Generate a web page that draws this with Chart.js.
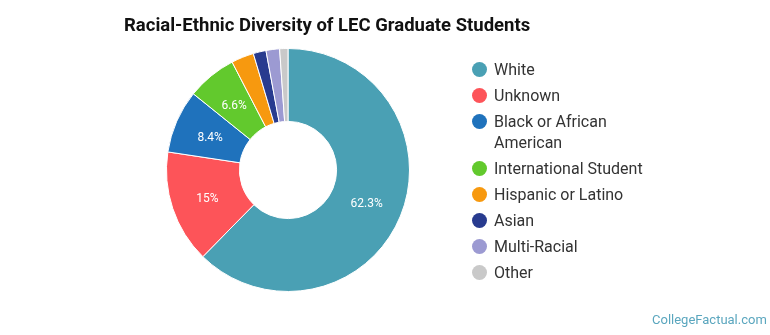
<!DOCTYPE html>
<html>
<head>
<meta charset="utf-8">
<script src="https://cdn.jsdelivr.net/npm/chart.js@4/dist/chart.umd.min.js"></script>
<style>
  body { margin: 0; background: #fff; font-family: Roboto, sans-serif; }
  #wrap { position: relative; width: 770px; height: 335px; }
  #title { position: absolute; left: 124px; top: 14px; font-size: 18.5px; font-weight: bold; color: #111; }
  #legend { position: absolute; left: 472px; top: 59px; list-style: none; margin: 0; padding: 0; }
  #legend li { position: relative; padding-left: 22px; font-size: 16px; line-height: 21px; color: #333; margin-bottom: 5px; width: 160px; }
  #legend li span { position: absolute; left: 0; top: 3px; width: 15px; height: 15px; border-radius: 50%; }
  #credit { position: absolute; left: 652px; top: 312px; font-size: 13px; color: #5aa6be; }
</style>
</head>
<body>
<div id="wrap">
  <canvas id="raceChart" width="770" height="335"></canvas>
  <div id="title">Racial-Ethnic Diversity of LEC Graduate Students</div>
  <ul id="legend"></ul>
  <div id="credit">CollegeFactual.com</div>
</div>
<script>
const labels = ['White', 'Unknown', 'Black or African American', 'International Student',
                'Hispanic or Latino', 'Asian', 'Multi-Racial', 'Other'];
const shares = [62.3, 15, 8.4, 6.6, 3.0, 1.7, 1.8, 1.1];
const colors = ['#4aa0b4', '#fd5459', '#1f72bc', '#62c92d', '#f7990f', '#283b8f', '#9c9ad2', '#c9c9c9'];

// percent labels inside the bigger slices
const sliceLabels = {
    id: 'sliceLabels',
    afterDatasetsDraw(chart) {
        const ctx = chart.ctx;
        const meta = chart.getDatasetMeta(0);
        ctx.save();
        ctx.font = '12px Roboto';
        ctx.fillStyle = '#fff';
        ctx.textAlign = 'center';
        ctx.textBaseline = 'middle';
        meta.data.forEach(function (arc, i) {
            if (shares[i] < 5) return;
            var p = arc.tooltipPosition();
            ctx.fillText(shares[i] + '%', p.x, p.y + 2);
        });
        ctx.restore();
    }
};

const ctx = document.getElementById('raceChart').getContext('2d');
var pieChart = new Chart(ctx, {
    type: 'doughnut',
    data: {
        labels: labels,
        datasets: [{
            data: shares,
            backgroundColor: colors,
            borderColor: '#fff',
            borderWidth: 1,
        }]
    },
    options: {
        responsive: false,
        animation: false,
        cutout: '40%',
        layout: {
            padding: { left: 166, right: 360, top: 48, bottom: 43 },
        },
        plugins: {
            legend: { display: false },
            tooltip: { enabled: false },
        },
    },
    plugins: [sliceLabels],
});

var legend = document.getElementById('legend');
labels.forEach(function (name, i) {
    var li = document.createElement('li');
    var dot = document.createElement('span');
    dot.style.background = colors[i];
    li.appendChild(dot);
    li.appendChild(document.createTextNode(name));
    if (i == 2) li.style.width = '130px';
    legend.appendChild(li);
});
</script>
</body>
</html>
